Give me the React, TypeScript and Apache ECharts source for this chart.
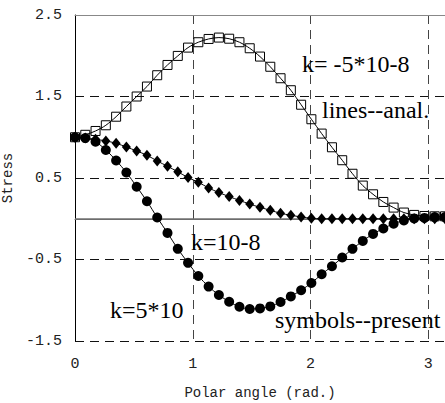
import React, { useEffect, useRef } from "react";
import * as echarts from "echarts";

// polar angle samples (rad), 5° steps from 0 to π
const angles = [
  0, 0.0873, 0.1745, 0.2618, 0.3491, 0.4363, 0.5236, 0.6109, 0.6981, 0.7854,
  0.8727, 0.9599, 1.0472, 1.1345, 1.2217, 1.309, 1.3963, 1.4835, 1.5708, 1.6581,
  1.7453, 1.8326, 1.9199, 2.0071, 2.0944, 2.1817, 2.2689, 2.3562, 2.4435, 2.5307,
  2.618, 2.7053, 2.7925, 2.8798, 2.9671, 3.0543, 3.1416,
];

// k = -5*10-8 (open squares)
const stressSquares = [
  1.0, 1.03, 1.077, 1.147, 1.252, 1.377, 1.5, 1.622, 1.761, 1.887,
  1.998, 2.1, 2.166, 2.206, 2.223, 2.209, 2.166, 2.092, 1.99, 1.865,
  1.724, 1.577, 1.399, 1.221, 1.045, 0.877, 0.718, 0.552, 0.407, 0.3,
  0.206, 0.137, 0.076, 0.047, 0.034, 0.03, 0.03,
];

// k = 10-8 (filled diamonds)
const stressDiamonds = [
  1.0, 0.99, 0.975, 0.955, 0.926, 0.88, 0.832, 0.779, 0.709, 0.644,
  0.577, 0.505, 0.448, 0.378, 0.321, 0.272, 0.225, 0.18, 0.14, 0.104,
  0.067, 0.043, 0.022, 0.006, 0.0, 0.0, 0.0, 0.0, 0.0, 0.0,
  0.0, 0.0, 0.0, 0.0, 0.0, 0.0, 0.0,
];

// k = 5*10 (filled circles)
const stressCircles = [
  1.0, 0.99, 0.945, 0.844, 0.715, 0.568, 0.393, 0.215, 0.015, -0.174,
  -0.369, -0.541, -0.702, -0.832, -0.936, -1.018, -1.08, -1.107, -1.1, -1.076,
  -1.022, -0.953, -0.877, -0.788, -0.681, -0.583, -0.476, -0.369, -0.272, -0.186,
  -0.12, -0.061, -0.021, 0.004, 0.01, 0.02, 0.02,
];

const xTickLabels = ["0", "1", "2", "3"];
const yTickLabels = ["-1.5", "-0.5", "0.5", "1.5", "2.5"];

const annotations = [
  { text: "k= -5*10-8", x: 302, y: 64 },
  { text: "lines--anal.", x: 322, y: 110 },
  { text: "k=10-8", x: 191, y: 242 },
  { text: "k=5*10", x: 110, y: 310 },
  { text: "symbols--present", x: 275, y: 320 },
];

const pair = (vals: number[]) => angles.map((a, i) => [a, vals[i]]);

export default function App() {
  const ref = useRef<HTMLDivElement>(null);
  useEffect(() => {
    if (!ref.current) return;
    const chart = echarts.init(ref.current, undefined, { renderer: "svg" });
    const mono = "'Liberation Mono', 'Courier New', monospace";
    const serif = "'Liberation Serif', 'Times New Roman', serif";
    const lineCommon = {
      type: "line",
      smooth: 0.3,
      lineStyle: { color: "#000", width: 1 },
    };
    chart.setOption({
      animation: false,
      backgroundColor: "#fff",
      grid: {
        left: 75,
        right: 0,
        top: 15,
        bottom: 62,
        containLabel: false,
        outerBoundsMode: "none",
      },
      xAxis: [
        {
          type: "value",
          min: 0,
          max: 3.1416,
          interval: 1,
          name: "Polar angle (rad.)",
          nameLocation: "middle",
          nameGap: 45,
          nameTextStyle: { fontFamily: mono, fontSize: 14, color: "#222" },
          axisLine: { show: true, lineStyle: { color: "#666", width: 1 } },
          axisTick: { show: false },
          axisLabel: {
            margin: 16,
            fontFamily: mono,
            fontSize: 15,
            color: "#222",
            showMaxLabel: false,
            formatter: (v: number) => {
              const idx = Math.round(v);
              return Math.abs(v - idx) < 1e-6 && xTickLabels[idx] ? xTickLabels[idx] : "";
            },
          },
          splitLine: {
            show: true,
            lineStyle: { color: "#444", width: 1, type: [9, 6] },
          },
        },
        {
          type: "value",
          position: "top",
          min: 0,
          max: 3.1416,
          axisLine: { show: true, lineStyle: { color: "#888", width: 1 } },
          axisTick: { show: false },
          axisLabel: { show: false },
          splitLine: { show: false },
        },
      ],
      yAxis: {
        type: "value",
        min: -1.5,
        max: 2.5,
        interval: 1,
        name: "Stress",
        nameLocation: "middle",
        nameGap: 49,
        nameTextStyle: { fontFamily: mono, fontSize: 14, color: "#222" },
        axisLine: { show: true, lineStyle: { color: "#000", width: 1 } },
        axisTick: { show: false },
        axisLabel: {
          margin: 13,
          fontFamily: mono,
          fontSize: 15,
          color: "#222",
          formatter: (v: number) => {
            const idx = Math.round(v + 1.5);
            return yTickLabels[idx] ?? "";
          },
        },
        splitLine: {
          show: true,
          lineStyle: { color: "#111", width: 1, type: [9, 6] },
        },
      },
      graphic: annotations.map((a) => ({
        type: "text",
        x: a.x,
        y: a.y,
        z: 100,
        style: {
          text: a.text,
          fontFamily: serif,
          fontSize: 24,
          fill: "#000",
          verticalAlign: "middle",
        },
      })),
      series: [
        {
          ...lineCommon,
          name: "k= -5*10-8",
          data: pair(stressSquares),
          symbol: "rect",
          symbolSize: 9,
          itemStyle: { color: "rgba(255,255,255,0)", borderColor: "#000", borderWidth: 1 },
          z: 3,
        },
        {
          ...lineCommon,
          name: "k=10-8",
          data: pair(stressDiamonds),
          symbol: "diamond",
          symbolSize: [9, 11],
          itemStyle: { color: "#000" },
          z: 4,
          markLine: {
            silent: true,
            symbol: ["none", "none"],
            label: { show: false },
            lineStyle: { color: "#707070", width: 1.5, type: "solid" },
            data: [{ yAxis: 0 }],
            z: 1,
          },
        },
        {
          ...lineCommon,
          name: "k=5*10",
          data: pair(stressCircles),
          symbol: "circle",
          symbolSize: 10,
          itemStyle: { color: "#000" },
          z: 5,
        },
      ],
    });
    return () => chart.dispose();
  }, []);
  return (
    <div
      ref={ref}
      style={{ position: "absolute", left: 0, top: 0, width: 445, height: 403 }}
    />
  );
}
